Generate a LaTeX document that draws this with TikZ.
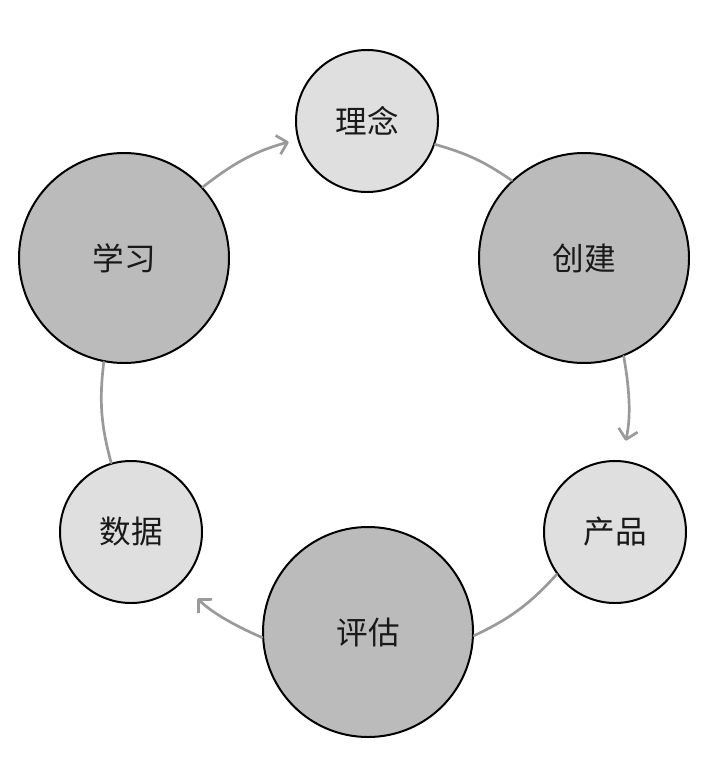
\documentclass[tikz,border=0pt]{standalone}
\usepackage{fontspec}
\setmainfont{Noto Sans CJK SC}
\usetikzlibrary{arrows.meta}
\definecolor{cDark}{HTML}{BBBBBB}
\definecolor{cLight}{HTML}{DFDFDF}
\definecolor{cArc}{HTML}{9A9A9A}

\begin{document}
\begin{tikzpicture}[x=0.03cm, y=-0.03cm,
    stage/.style={circle, draw=black, line width=1.7pt, inner sep=0pt,
      text=black!90, font=\fontsize{27}{31}\selectfont},
    bigstage/.style={stage, fill=cDark, minimum size=6.3cm},
    smallstage/.style={stage, fill=cLight, minimum size=4.26cm},
    flow/.style={draw=cArc, line width=2.3pt, line cap=round, bend left=#1},
    tip/.style={-{Straight Barb[length=2.9mm, width=5.8mm, line join=round]}}]
  \useasboundingbox (0,0) rectangle (714,760);
  % stages of the cycle
  \foreach \nm/\x/\y/\sz/\txt in {linian/367/121/smallstage/理念,
      chuangjian/584/258/bigstage/创建, chanpin/615/532/smallstage/产品,
      pinggu/368/632/bigstage/评估, shuju/131/532/smallstage/数据,
      xuexi/124/258/bigstage/学习}
    \node[\sz] (\nm) at (\x,\y) {\txt};
  % arcs between stages
  \draw[flow=11.5, tip, shorten >=0.27cm] (xuexi.42) to (linian.195);
  \draw[flow=9.5] (linian.341) to (chuangjian.133);
  \draw[flow=11.4, tip, shorten >=0.6cm] (chuangjian.292) to (chanpin.85);
  \draw[flow=11.2] (chanpin.216) to (pinggu.358);
  \draw[flow=10.7, tip, shorten >=0.66cm] (pinggu.183) to (shuju.315);
  \draw[flow=11] (shuju.106) to (xuexi.259);
\end{tikzpicture}
\end{document}
